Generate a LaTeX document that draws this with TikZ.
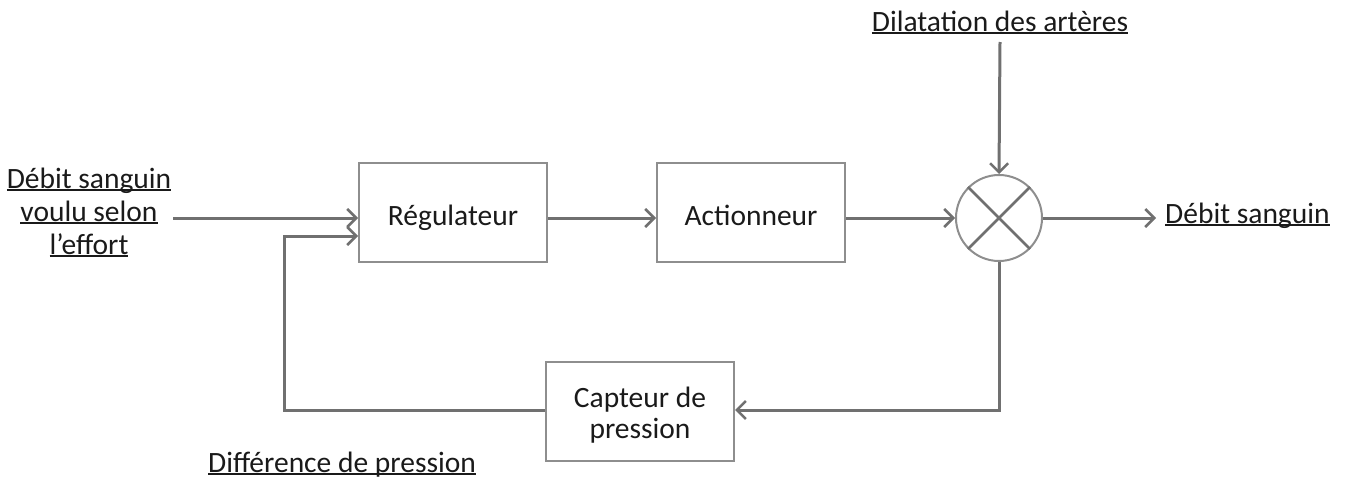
\documentclass[tikz,border=0pt]{standalone}
\usepackage{fontspec}
\setmainfont{Carlito}
\usetikzlibrary{arrows.meta}
\definecolor{linegray}{HTML}{707070}
\definecolor{boxgray}{HTML}{8E8E8E}
\definecolor{textcol}{HTML}{1A1A1A}
\newcommand\ulin[1]{\setbox0\hbox{#1}\rlap{\rule[-3pt]{\wd0}{2pt}}\box0}
\begin{document}
\begin{tikzpicture}[x=1pt,y=-1pt,
  txt/.style={font=\fontsize{29.5}{33}\selectfont,text=textcol,align=center,inner sep=0pt},
  block/.style={txt,draw=boxgray,line width=2pt,minimum width=188pt,minimum height=99pt,inner sep=0pt},
  conn/.style={draw=linegray,line width=3pt,-{Straight Barb[length=9pt,width=18pt,line width=2.5pt]}},
  crossline/.style={draw=linegray,line width=2.5pt}]
\useasboundingbox (0,0) rectangle (1346,479);
\node[block,text height=28pt,text depth=3pt] (reg) at (453,212.5) {Régulateur};
\node[block,text height=28pt,text depth=3pt] (act) at (751,212.5) {Actionneur};
\node[block] (cap) at (640,411.5) {};
\node[txt,anchor=base,font=\fontsize{29.5}{31}\selectfont] (captxt) at (640,438) {Capteur de\\pression};
\node[circle,draw=boxgray,line width=2pt,minimum size=86pt,inner sep=0pt] (sum) at (999,218) {};
\draw[crossline] (sum.45) -- (sum.225);
\draw[crossline] (sum.135) -- (sum.-45);
\node[txt,anchor=base] (in) at (89,254) {\ulin{Débit sanguin}\\\ulin{voulu selon}\\\ulin{l’effort}};
\node[txt,anchor=base west] (out) at (1165,223) {\ulin{Débit sanguin}};
\node[txt,anchor=base] (dil) at (1000,31) {\ulin{Dilatation des artères}};
\node[txt,anchor=base] (diff) at (342,472) {\ulin{Différence de pression}};
\coordinate (fb) at (284,410);
\coordinate (fbu) at (284,236);
\draw[conn] (173,218) -- (reg.west |- sum);
\draw[conn] (cap.west |- fb) -- (fb) -- (fbu) -- (fbu -| reg.west);
\draw[conn] (reg.east |- sum) -- (act.west |- sum);
\draw[conn] (act.east |- sum) -- (sum.west);
\draw[conn] (sum.east) -- ([xshift=-9pt]sum.east -| out.west);
\draw[conn] (dil.south |- 0,42) -- (sum.north);
\draw[conn] (sum.south) -- (sum.south |- fb) -- (cap.east |- fb);
\end{tikzpicture}
\end{document}
